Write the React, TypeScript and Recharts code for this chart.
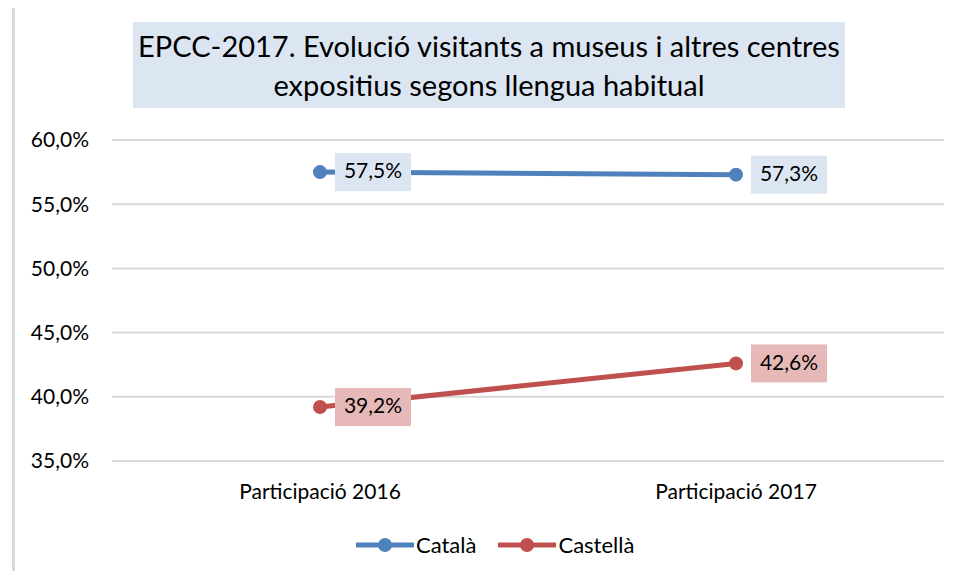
import React from 'react'
import { LineChart, Line, XAxis, YAxis, CartesianGrid, LabelList } from 'recharts'

const categories = ['Participació 2016', 'Participació 2017']
const catala = [57.5, 57.3]
const castella = [39.2, 42.6]
const yTicks = [35, 40, 45, 50, 55, 60]

const data = categories.map((name, i) => ({ name, catala: catala[i], castella: castella[i] }))

const FONT = 'Lato, "Open Sans", sans-serif'
const BLUE = '#4f81bd'
const RED = '#c0504d'

const fmt = (v: number) => `${v.toFixed(1).replace('.', ',')}%`

const boxLabel = (fill: string) => (props: any) => {
  const { x, y, value } = props
  return (
    <g>
      <rect x={x + 15} y={y - 19} width={76} height={38} fill={fill} />
      <text
        x={x + 53}
        y={y + 1}
        textAnchor="middle"
        dominantBaseline="middle"
        fontSize={21}
        fontFamily={FONT}
        fill="#000"
      >
        {fmt(value)}
      </text>
    </g>
  )
}

function LegendItem({ color, label }: { color: string; label: string }) {
  return (
    <div style={{ display: 'flex', alignItems: 'center', marginRight: 22 }}>
      <svg width={58} height={16}>
        <line x1={1} y1={8} x2={57} y2={8} stroke={color} strokeWidth={5} strokeLinecap="round" />
        <circle cx={29} cy={8} r={7} fill={color} />
      </svg>
      <span style={{ fontSize: 22, marginLeft: 2 }}>{label}</span>
    </div>
  )
}

export default function App() {
  return (
    <div style={{ position: 'relative', width: 954, height: 579, margin: -8, background: '#fff', fontFamily: FONT, overflow: 'hidden' }}>
      <div
        style={{
          position: 'absolute',
          left: 12,
          top: 5,
          width: 960,
          height: 600,
          borderTop: '3px solid #d9d9d9',
          borderLeft: '3px solid #d9d9d9',
        }}
      />
      <div
        style={{
          position: 'absolute',
          left: 133,
          top: 22,
          width: 712,
          height: 86,
          background: '#dce6f2',
          display: 'flex',
          alignItems: 'center',
          justifyContent: 'center',
          textAlign: 'center',
          fontSize: 29,
          lineHeight: '39px',
          color: '#000',
        }}
      >
        EPCC-2017. Evolució visitants a museus i altres centres
        <br />
        expositius segons llengua habitual
      </div>
      <div style={{ position: 'absolute', left: 0, top: 0 }}>
        <LineChart width={954} height={579} data={data} margin={{ top: 140, right: 10, bottom: 88, left: 0 }}>
          <CartesianGrid vertical={false} stroke="#d9d9d9" strokeWidth={2} />
          <XAxis
            dataKey="name"
            axisLine={false}
            tickLine={false}
            tickSize={0}
            tickMargin={23}
            padding={{ left: 208, right: 208 }}
            tick={{ fontSize: 21, fill: '#000', fontFamily: FONT }}
          />
          <YAxis
            width={112}
            domain={[35, 60]}
            ticks={yTicks}
            tickFormatter={fmt}
            axisLine={false}
            tickLine={false}
            tickSize={0}
            tickMargin={23}
            tick={{ fontSize: 21, fill: '#000', fontFamily: FONT }}
          />
          <Line
            dataKey="catala"
            stroke={BLUE}
            strokeWidth={5}
            dot={{ r: 7, fill: BLUE, stroke: BLUE, strokeWidth: 0 }}
            isAnimationActive={false}
          >
            <LabelList dataKey="catala" content={boxLabel('#dce6f2')} />
          </Line>
          <Line
            dataKey="castella"
            stroke={RED}
            strokeWidth={5}
            dot={{ r: 7, fill: RED, stroke: RED, strokeWidth: 0 }}
            isAnimationActive={false}
          >
            <LabelList dataKey="castella" content={boxLabel('#e6b9b8')} />
          </Line>
        </LineChart>
      </div>
      <div
        style={{
          position: 'absolute',
          left: 356,
          top: 531,
          display: 'flex',
          alignItems: 'center',
          color: '#000',
        }}
      >
        <LegendItem color={BLUE} label="Català" />
        <LegendItem color={RED} label="Castellà" />
      </div>
    </div>
  )
}
